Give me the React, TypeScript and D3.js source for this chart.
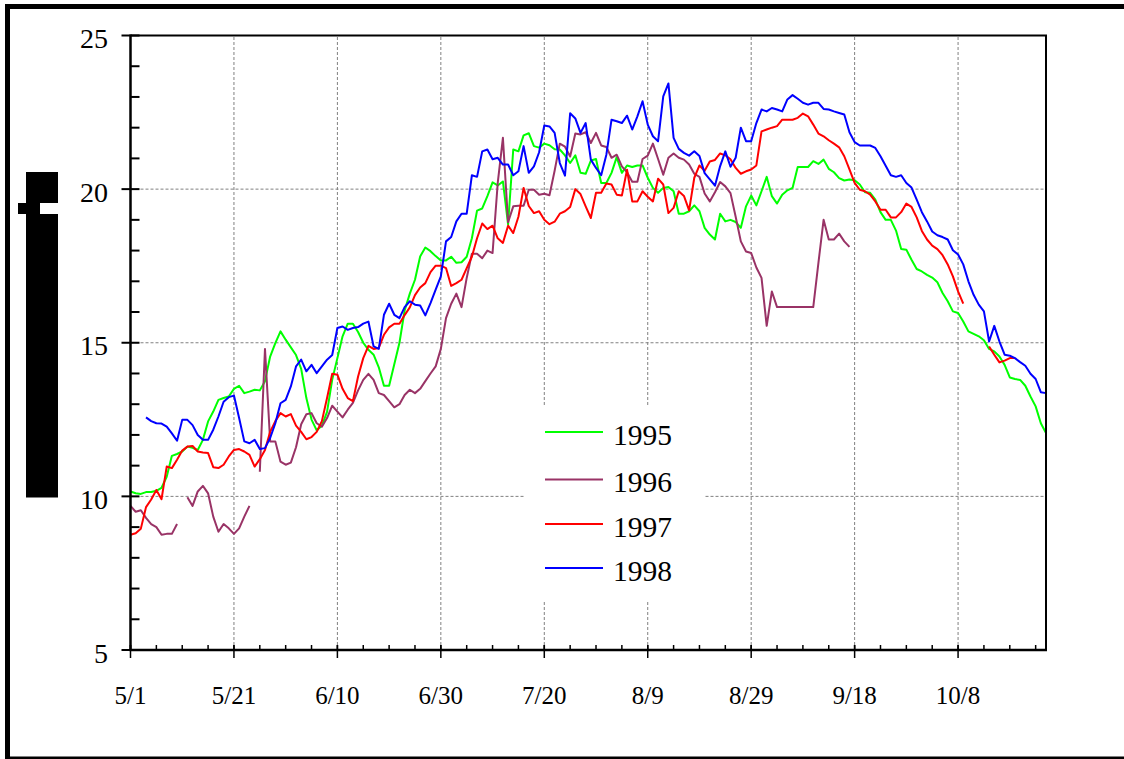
import React from "react";
import * as d3 from "d3";

// ---- data (daily values starting 5/1, index = days since 5/1) ----
const tickLabels = ["5/1", "5/21", "6/10", "6/30", "7/20", "8/9", "8/29", "9/18", "10/8"];
const tickDays = [0, 20, 40, 60, 80, 100, 120, 140, 160];
const yTicks = [5, 10, 15, 20, 25];
const seriesNames = ["1995", "1996", "1997", "1998"];
const seriesColors = ["#00ff00", "#993366", "#ff0000", "#0000ff"];

const y1995: (number | null)[] = [
  10.16, 10.1, 10.08, 10.14, 10.14, 10.18, 10.28, 10.64, 11.32, 11.38,
  11.46, 11.62, 11.58, 11.51, 11.84, 12.44, 12.76, 13.14, 13.2, 13.25,
  13.5, 13.6, 13.36, 13.41, 13.47, 13.45, 13.75, 14.55, 14.99, 15.37,
  15.1, 14.85, 14.6, 14.15, 13.2, 12.5, 12.15, 12.3, 12.75, 13.8,
  14.5, 15.21, 15.62, 15.62, 15.35, 15.0, 14.77, 14.61, 14.2, 13.6,
  13.6, 14.3, 15.0, 16.05, 16.6, 17.05, 17.81, 18.1, 17.98, 17.82,
  17.68, 17.68, 17.8, 17.6, 17.62, 17.8, 18.4, 19.3, 19.37, 19.77,
  20.22, 20.12, 20.25, 18.85, 21.29, 21.23, 21.75, 21.82, 21.4, 21.35,
  21.48, 21.43, 21.3, 21.29, 21.1, 20.85, 21.1, 20.53, 20.5, 20.93,
  20.98, 20.2, 20.2, 20.53, 21.04, 20.53, 20.77, 20.72, 20.77, 20.77,
  20.37, 20.04, 19.88, 20.04, 20.07, 19.93, 19.2, 19.2, 19.28, 19.47,
  19.28, 18.74, 18.52, 18.36, 19.2, 18.95, 19.0, 18.93, 18.74, 19.44,
  19.79, 19.47, 19.93, 20.4, 19.77, 19.53, 19.82, 19.96, 20.04, 20.72,
  20.72, 20.72, 20.91, 20.82, 20.96, 20.66, 20.55, 20.36, 20.28, 20.31,
  20.29, 20.15, 19.9, 19.88, 19.66, 19.25, 19.0, 19.0, 18.65, 18.05,
  18.03, 17.7, 17.4, 17.32, 17.21, 17.12, 16.97, 16.62, 16.35, 16.02,
  15.97, 15.69, 15.37, 15.29, 15.21, 15.08, 14.8, 14.72, 14.55, 14.28,
  13.87, 13.82, 13.79, 13.6, 13.25, 12.93, 12.38, 12.06,
];

const y1996: (number | null)[] = [
  9.69, 9.5, 9.55, 9.3, 9.1, 9.0, 8.75, 8.78, 8.78, 9.1,
  null, 9.97, 9.69, 10.16, 10.34, 10.1, 9.34, 8.85, 9.1, 8.96,
  8.78, 8.96, 9.34, 9.69, null, 10.8, 14.8, 11.79, 11.79, 11.13,
  11.03, 11.1, 11.6, 12.35, 12.67, 12.71, 12.38, 12.27, 12.55, 12.95,
  12.76, 12.57, 12.82, 13.04, 13.45, 13.79, 13.99, 13.79, 13.36, 13.3,
  13.1, 12.9, 13.0, 13.3, 13.47, 13.36, 13.5, 13.75, 14.0, 14.23,
  14.8, 15.8, 16.27, 16.6, 16.16, 17.11, 17.9, 17.9, 17.75, 18.0,
  17.92, 20.2, 21.67, 18.92, 19.44, 19.46, 19.46, 19.98, 19.98, 19.82,
  19.85, 19.8, 20.6, 21.48, 21.38, 21.06, 21.81, 21.78, 21.85, 21.5,
  21.83, 21.42, 21.37, 21.02, 21.12, 20.74, 20.55, 20.24, 20.24, 20.98,
  21.09, 21.48, 20.98, 20.47, 21.02, 21.16, 21.02, 20.96, 20.8, 20.5,
  20.4, 19.86, 19.6, 19.9, 20.23, 20.09, 19.87, 19.1, 18.3, 17.97,
  17.92, 17.45, 17.11, 15.55, 16.67, 16.16, 16.16, 16.16, 16.16, 16.16,
  16.16, 16.16, 16.16, 17.6, 19.0, 18.36, 18.36, 18.55, 18.3, 18.12,
];

const y1997: (number | null)[] = [
  8.75, 8.8, 8.95, 9.65, 9.9, 10.21, 9.91, 10.97, 10.92, 11.19,
  11.49, 11.62, 11.64, 11.46, 11.43, 11.41, 10.95, 10.92, 11.03, 11.3,
  11.51, 11.54, 11.46, 11.35, 10.97, 11.21, 11.51, 12.1, 12.45, 12.71,
  12.6, 12.68, 12.3, 12.1, 11.86, 11.93, 12.1, 12.45, 13.2, 13.99,
  13.96, 13.5, 13.2, 13.1, 13.9, 14.5, 14.9, 14.8, 14.83, 15.26,
  15.5, 15.62, 15.62, 15.9, 16.15, 16.55, 16.8, 16.94, 17.3, 17.51,
  17.51, 17.43, 16.85, 16.94, 17.05, 17.43, 17.8, 18.4, 18.88, 18.7,
  18.81, 18.4, 18.25, 18.81, 18.57, 19.1, 20.04, 19.45, 19.22, 19.28,
  19.0, 18.86, 18.94, 19.2, 19.28, 19.42, 20.0, 19.84, 19.44, 19.06,
  19.88, 19.88, 20.18, 20.15, 19.82, 19.79, 20.63, 19.6, 19.6, 19.93,
  19.75, 19.6, 20.34, 20.15, 19.22, 19.39, 19.93, 19.78, 19.31, 20.37,
  20.77, 20.6, 20.9, 20.95, 21.16, 21.1, 20.97, 20.69, 20.5, 20.58,
  20.64, 20.77, 21.88, 21.94, 22.0, 22.05, 22.26, 22.26, 22.26, 22.32,
  22.46, 22.37, 22.1, 21.81, 21.72, 21.59, 21.48, 21.36, 21.07, 20.64,
  20.2, 19.98, 19.93, 19.82, 19.6, 19.33, 19.33, 19.08, 19.08, 19.25,
  19.53, 19.42, 19.08, 18.64, 18.36, 18.16, 18.05, 17.85, 17.55, 17.16,
  16.67, 16.27, null, null, null, null, 14.88, 14.61, 14.36, 14.42,
  14.5, 14.5,
];

const y1998: (number | null)[] = [
  null, null, null, 12.57, 12.45, 12.38, 12.37, 12.27, 12.05, 11.81,
  12.49, 12.49, 12.32, 12.0, 11.84, 11.84, 12.17, 12.6, 13.08, 13.23,
  13.28, 12.55, 11.79, 11.73, 11.84, 11.54, 11.57, 11.9, 12.38, 13.03,
  13.14, 13.58, 14.23, 14.45, 14.07, 14.28, 14.01, 14.23, 14.45, 14.6,
  15.48, 15.53, 15.42, 15.48, 15.51, 15.62, 15.69, 14.88, 14.8, 15.91,
  16.27, 15.91, 15.8, 16.16, 16.35, 16.24, 16.21, 15.89, 16.29, 16.73,
  17.16, 18.3, 18.44, 18.95, 19.2, 19.2, 20.45, 20.4, 21.23, 21.29,
  20.97, 21.02, 20.8, 20.8, 20.45, 20.58, 21.4, 20.53, 20.74, 21.2,
  22.07, 22.04, 21.83, 20.85, 20.44, 22.47, 22.3, 21.83, 22.15, 20.96,
  20.69, 20.45, 21.12, 22.26, 22.21, 22.15, 22.39, 21.94, 22.37, 22.86,
  22.1, 21.72, 21.56, 23.02, 23.44, 21.67, 21.31, 21.18, 21.09, 21.23,
  21.08, 20.52, 20.32, 20.11, 20.75, 21.23, 20.73, 21.02, 22.0, 21.56,
  21.56, 22.15, 22.59, 22.53, 22.64, 22.59, 22.53, 22.92, 23.06, 22.94,
  22.81, 22.75, 22.81, 22.81, 22.61, 22.59, 22.53, 22.48, 22.43, 21.85,
  21.53, 21.42, 21.42, 21.42, 21.34, 21.07, 20.76, 20.45, 20.4, 20.45,
  20.2, 20.05, 19.66, 19.25, 18.95, 18.62, 18.5, 18.44, 18.36, 18.01,
  17.87, 17.55, 17.0, 16.56, 16.24, 16.02, 15.04, 15.55, 15.04, 14.61,
  14.58, 14.5, 14.37, 14.25, 13.99, 13.82, 13.39, 13.36,
];

const allSeries = [y1995, y1996, y1997, y1998];

// ---- layout ----
const W = 1124;
const H = 759;
const x = d3.scaleLinear().domain([0, 177]).range([130.5, 1046]);
const y = d3.scaleLinear().domain([5, 25]).range([650, 35.5]);
const FONT = "'Liberation Serif', 'Times New Roman', serif";

export default function App() {
  const line = d3
    .line<number | null>()
    .defined((d) => d != null)
    .x((_, i) => x(i))
    .y((d) => y(d as number));

  const minorX = d3.range(0, 178, 5);
  const minorY = d3.range(5, 26, 1);
  const gridX = tickDays.filter((d) => d > 0);
  const gridY = yTicks.filter((v) => v > 5 && v < 25);
  const legendY = [432, 479.5, 524, 568];

  const [x0, x1] = x.range();
  const [yb, yt] = y.range();

  return (
    <svg
      width={W}
      height={H}
      style={{ position: "absolute", left: 0, top: 0, background: "#fff" }}
    >
      <rect x={0} y={0} width={W} height={H} fill="#fff" />
      {/* outer frame */}
      <rect x={5} y={4} width={5} height={H} fill="#000" />
      <rect x={5} y={4} width={W - 5} height={5} fill="#000" />
      <rect x={5} y={756.5} width={W - 5} height={4} fill="#000" />

      {/* axis title (unreadable glyph block) */}
      <path d="M26,172 H58 V203 H40 V214 H58 V497.5 H26 V214 H18 V203 H26 Z" fill="#000" />

      {/* grid */}
      {gridX.map((d) => (
        <line key={"gx" + d} x1={x(d)} x2={x(d)} y1={yb} y2={yt} stroke="#808080" strokeWidth={1} strokeDasharray="3,2" />
      ))}
      {gridY.map((v) => (
        <line key={"gy" + v} x1={x0} x2={x1} y1={y(v)} y2={y(v)} stroke="#808080" strokeWidth={1} strokeDasharray="3,2" />
      ))}

      {/* series */}
      {allSeries.map((s, i) => (
        <path key={seriesNames[i]} d={line(s) || ""} fill="none" stroke={seriesColors[i]} strokeWidth={2} strokeLinejoin="round" />
      ))}

      {/* legend */}
      <rect x={525} y={405} width={180} height={195} fill="#fff" />
      {seriesNames.map((n, i) => (
        <g key={"lg" + n}>
          <line x1={545} x2={603} y1={legendY[i]} y2={legendY[i]} stroke={seriesColors[i]} strokeWidth={2} />
          <text x={613} y={legendY[i] + 12.5} fontFamily={FONT} fontSize={29.5} fill="#000">
            {n}
          </text>
        </g>
      ))}

      {/* plot frame top/right */}
      <line x1={x0} x2={x1 + 1} y1={yt} y2={yt} stroke="#000" strokeWidth={2} />
      <line x1={x1} x2={x1} y1={yt} y2={yb} stroke="#000" strokeWidth={2} />

      {/* y axis */}
      <line x1={x0} x2={x0} y1={yt - 1} y2={yb + 1} stroke="#000" strokeWidth={2.5} />
      {minorY.map((v) => (
        <line key={"my" + v} x1={x0} x2={x0 + 9} y1={y(v)} y2={y(v)} stroke="#000" strokeWidth={2} />
      ))}
      {yTicks.map((v) => (
        <g key={"yt" + v}>
          <line x1={x0 - 9} x2={x0} y1={y(v)} y2={y(v)} stroke="#000" strokeWidth={2} />
          <text x={108} y={y(v) + 12.5} textAnchor="end" fontFamily={FONT} fontSize={28} fill="#000">
            {v}
          </text>
        </g>
      ))}

      {/* x axis */}
      <line x1={x0 - 1} x2={x1 + 1} y1={yb} y2={yb} stroke="#000" strokeWidth={2.5} />
      {minorX.map((d) => (
        <line key={"mx" + d} x1={x(d)} x2={x(d)} y1={yb - 5} y2={yb} stroke="#000" strokeWidth={1.5} />
      ))}
      {tickDays.map((d, i) => (
        <g key={"xt" + d}>
          <line x1={x(d)} x2={x(d)} y1={yb - 5} y2={yb + 8} stroke="#000" strokeWidth={1.5} />
          <text x={x(d)} y={704} textAnchor="middle" fontFamily={FONT} fontSize={25} fill="#000">
            {tickLabels[i]}
          </text>
        </g>
      ))}
    </svg>
  );
}
